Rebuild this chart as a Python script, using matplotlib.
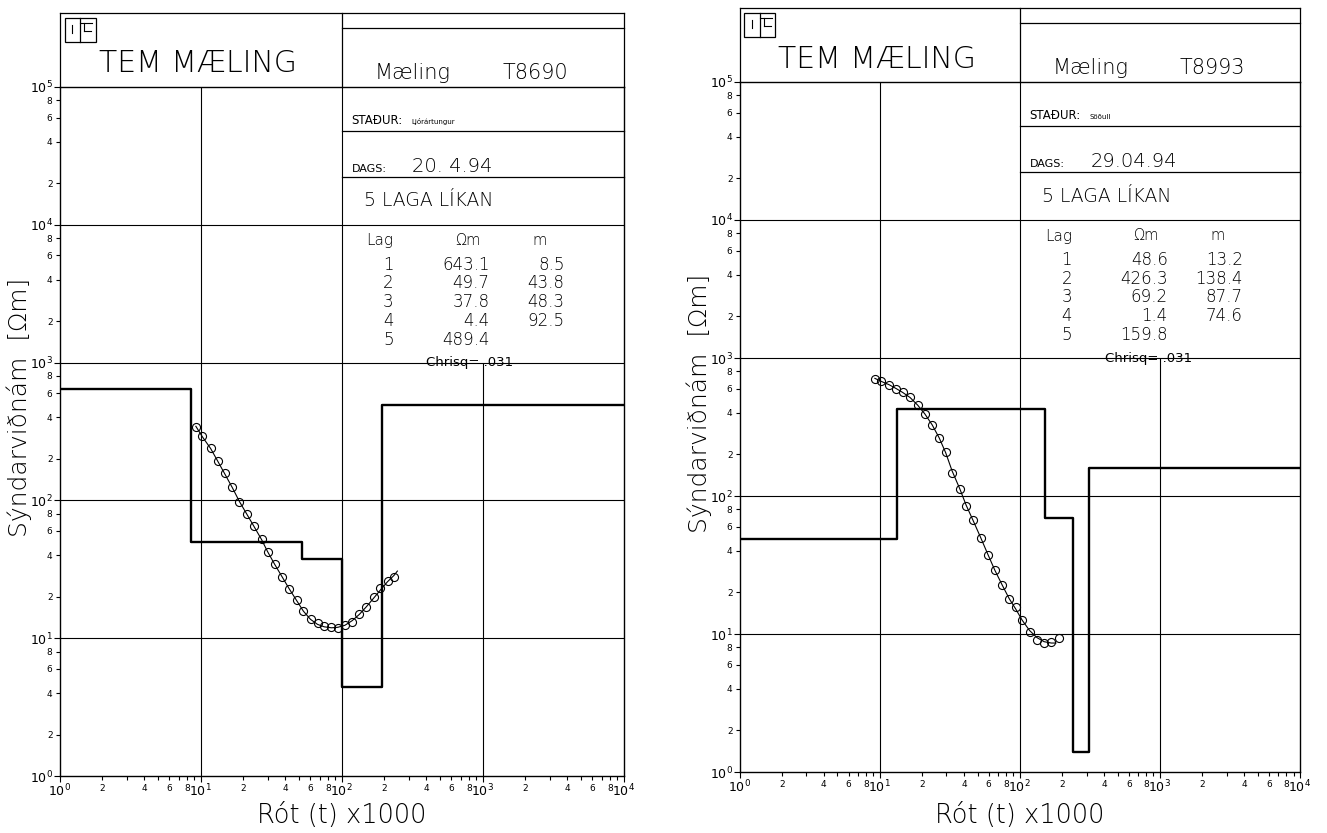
import numpy as np
import matplotlib
matplotlib.use("Agg")
import matplotlib.pyplot as plt
from matplotlib import font_manager
from matplotlib.lines import Line2D
from matplotlib.patches import Rectangle
from matplotlib.ticker import FixedLocator, FixedFormatter

# ---------------- sounding T8690 (Ljórártungur) ----------------
t8690_time = [9.27, 10.3, 11.8, 13.2, 14.8, 16.8, 18.9, 21.3, 24.0, 27.1, 29.9, 33.5, 37.9,
              42.6, 48.0, 53.7, 60.3, 67.6, 75.3, 84.9, 94.2, 105.6, 119, 134, 150, 171,
              189, 212, 236]
t8690_rho = [339, 292, 240, 192, 158, 125, 97.3, 80.1, 64.9, 52.3, 42.3, 34.7, 27.8, 22.7,
             18.8, 15.8, 13.8, 12.8, 12.2, 12.0, 11.8, 12.5, 13.2, 14.9, 16.9, 20.0, 23.0,
             25.9, 27.6]
t8690_fit_time = [9.27, 10.3, 11.8, 13.2, 14.8, 16.8, 18.9, 21.3, 24.0, 27.1, 29.9, 33.5,
                  37.9, 42.6, 48.0, 53.7, 60.3, 67.6, 75.3, 84.9, 94.2, 105.6, 119, 134,
                  150, 171, 189, 212, 236, 249]
t8690_fit_rho = [345, 290, 238, 194, 157, 124, 98, 79.5, 64.5, 52, 42.5, 34.5, 27.9, 22.8,
                 18.8, 15.7, 13.7, 12.6, 12.1, 11.9, 12.0, 12.4, 13.4, 14.9, 16.9, 19.8,
                 22.4, 25.7, 28.6, 30.7]
t8690_layer_res = [643.1, 49.7, 37.8, 4.4, 489.4]
t8690_layer_thk = [8.5, 43.8, 48.3, 92.5]

# ---------------- sounding T8993 (Söðull) ----------------
t8993_time = [9.25, 10.3, 11.7, 13.1, 14.6, 16.5, 18.7, 21.0, 23.7, 26.6, 29.6, 32.9, 37.3,
              41.5, 46.6, 52.6, 59.4, 66.4, 75.0, 84.2, 93.5, 104, 117.5, 133, 149, 168, 191]
t8993_rho = [709, 676, 640, 599, 566, 519, 454, 396, 328, 263, 207, 148, 112, 84.7, 66.5,
             49.6, 37.2, 28.9, 22.6, 17.9, 15.6, 12.6, 10.4, 9.1, 8.6, 8.8, 9.35]
t8993_fit_time = [9.25, 10.3, 11.7, 13.1, 14.6, 16.5, 18.7, 21.0, 23.7, 26.6, 29.6, 32.9,
                  37.3, 41.5, 46.6, 52.6, 59.4, 66.4, 75.0, 84.2, 93.5, 104, 117.5, 133,
                  149, 168, 181]
t8993_fit_rho = [712, 676, 640, 601, 563, 517, 455, 394, 328, 264, 206, 152, 113, 85.5, 66,
                 50, 37.5, 29, 22.6, 18, 15.2, 12.6, 10.6, 9.4, 8.8, 8.6, 8.6]
t8993_layer_res = [48.6, 426.3, 69.2, 1.4, 159.8]
t8993_layer_thk = [13.2, 138.4, 87.7, 74.6]

soundings = [
    dict(name="T8690", place="Ljórártungur", date="20. 4.94", chisq=".031",
         time=t8690_time, rho=t8690_rho, fit_time=t8690_fit_time, fit_rho=t8690_fit_rho,
         res=t8690_layer_res, thk=t8690_layer_thk),
    dict(name="T8993", place="Söðull", date="29.04.94", chisq=".031",
         time=t8993_time, rho=t8993_rho, fit_time=t8993_fit_time, fit_rho=t8993_fit_rho,
         res=t8993_layer_res, thk=t8993_layer_thk),
]


def light_family():
    prefs = [("DejaVu Sans", 200), ("Roboto", 300), ("Lato", 300), ("Open Sans", 300),
             ("Inter", 300)]
    have = {}
    for f in font_manager.fontManager.ttflist:
        w = f.weight
        if not isinstance(w, (int, float)):
            w = font_manager.weight_dict.get(str(w).lower(), 400)
        have.setdefault(f.name, set()).add(int(w))
    for name, _ in prefs:
        light = [w for w in have.get(name, ()) if w <= 300]
        if light:
            return name, max(light)
    return "DejaVu Sans", 400


FAM, WGT = light_family()
plt.rcParams["font.family"] = [FAM, "DejaVu Sans"]
plt.rcParams["font.weight"] = WGT
plt.rcParams["mathtext.default"] = "regular"

W, H, DPI = 1327, 833, 100
fig = plt.figure(figsize=(W / DPI, H / DPI), dpi=DPI)
fig.patch.set_facecolor("white")
K = "#000000"


def F(px, py):
    return px / W, 1 - py / H


def fline(xs, ys, lw=0.9):
    fx = [x / W for x in xs]
    fy = [1 - y / H for y in ys]
    fig.add_artist(Line2D(fx, fy, color=K, lw=lw, transform=fig.transFigure))


def ftext(px, py, s, **kw):
    kw.setdefault("color", K)
    fig.text(*F(px, py), s, **kw)


def draw_panel(s, x0, x1, y5, y0):
    ax = fig.add_axes([x0 / W, 1 - y0 / H, (x1 - x0) / W, (y0 - y5) / H])
    ax.set_xscale("log")
    ax.set_yscale("log")
    ax.set_xlim(1, 1e4)
    ax.set_ylim(1, 1e5)
    ax.set_facecolor("white")
    for sp in ax.spines.values():
        sp.set_linewidth(1.0)
        sp.set_color(K)

    def pxx(x):
        return x0 + np.log10(x) / 4 * (x1 - x0)

    def pyy(y):
        return y0 - np.log10(y) / 5 * (y0 - y5)

    # decade grid
    for k in range(1, 5):
        ax.axhline(10 ** k, color=K, lw=0.8, zorder=1)
    ax.axvline(10, color=K, lw=0.8, zorder=1)
    ax.axvline(100, color=K, lw=0.8, zorder=1)
    ax.vlines(1000, 1, 1000, color=K, lw=0.8, zorder=1)

    # ticks
    majors = [10 ** k for k in range(0, 6)]
    ax.yaxis.set_major_locator(FixedLocator(majors))
    ax.yaxis.set_major_formatter(FixedFormatter([f"$10^{{{k}}}$" for k in range(0, 6)]))
    yminor = [m * 10 ** k for k in range(0, 5) for m in (2, 4, 6, 8)]
    ax.yaxis.set_minor_locator(FixedLocator(yminor))
    ax.yaxis.set_minor_formatter(FixedFormatter([str(m) for k in range(0, 5) for m in (2, 4, 6, 8)]))

    ax.xaxis.set_major_locator(FixedLocator(majors[:5]))
    ax.xaxis.set_major_formatter(FixedFormatter([f"$10^{{{k}}}$" for k in range(0, 5)]))
    xminor = [m * 10 ** k for k in range(0, 4) for m in range(2, 10)]
    ax.xaxis.set_minor_locator(FixedLocator(xminor))
    ax.xaxis.set_minor_formatter(FixedFormatter(
        [str(m) if m % 2 == 0 else "" for k in range(0, 4) for m in range(2, 10)]))

    ax.tick_params(which="both", direction="out", color=K, width=0.8, labelcolor=K)
    ax.tick_params(axis="y", which="major", length=4, pad=1, labelsize=9)
    ax.tick_params(axis="y", which="minor", length=3, pad=2, labelsize=6.5)
    ax.tick_params(axis="x", which="major", length=4, pad=1, labelsize=9)
    ax.tick_params(axis="x", which="minor", length=3, pad=3, labelsize=6.5)
    for lab in (ax.get_xticklabels(which="both") + ax.get_yticklabels(which="both")):
        lab.set_fontweight("normal")

    # layered model
    bounds = np.cumsum(s["thk"])
    mx = np.concatenate([[1.0], bounds, [1e4]])
    my = list(s["res"]) + [s["res"][-1]]
    ax.step(mx, my, where="post", color=K, lw=1.7, zorder=3)

    # calculated response and measured values
    ax.plot(s["fit_time"], s["fit_rho"], color=K, lw=0.8, zorder=4)
    ax.plot(s["time"], s["rho"], "o", ms=5.8, mfc="none", mec=K, mew=0.8, zorder=5)

    # ---- title block and model table ----
    top = y5 - 74
    sub = y5 - 59
    r2 = y5 + 44
    r3 = y5 + 90
    y4 = pyy(1e4)
    y3 = pyy(1e3)
    tx = pxx(100)

    fline([x0, x1], [top, top])
    fline([x0, x0], [top, y5])
    fline([x1, x1], [top, y5])
    fline([tx, tx], [top, y5])
    fline([tx, x1], [sub, sub])
    fline([tx, x1], [r2, r2])
    fline([tx, x1], [r3, r3])

    # logo
    lx, ly = x0 + 5, y5 - 69
    fig.add_artist(Rectangle(F(lx, ly + 24), 31 / W, 24 / H, fill=False, ec=K, lw=0.9,
                             transform=fig.transFigure))
    fline([lx + 15, lx + 15], [ly, ly + 24], lw=0.9)
    fline([lx + 7, lx + 7], [ly + 7, ly + 15], lw=0.8)
    fline([lx + 15, lx + 27], [ly + 5, ly + 5], lw=0.8)
    fline([lx + 19, lx + 19], [ly + 5, ly + 13], lw=0.8)
    fline([lx + 19, lx + 26], [ly + 13, ly + 13], lw=0.8)

    ftext((x0 + tx) / 2 - 3, y5 - 23, "TEM MÆLING", fontsize=21.5, ha="center", va="center")
    ftext(tx + 33, y5 - 8, "Mæling", fontsize=15, ha="left", va="baseline")
    ftext(x1 - 55, y5 - 8, s["name"], fontsize=15, ha="right", va="baseline")
    ftext(tx + 10, r2 - 7, "STAÐUR:", fontsize=8.5, ha="left", va="baseline",
          fontweight="normal")
    ftext(tx + 70, r2 - 7, s["place"], fontsize=5, ha="left", va="baseline",
          fontweight="normal")
    ftext(tx + 10, r3 - 5, "DAGS:", fontsize=8, ha="left", va="baseline", fontweight="normal")
    ftext(tx + 71, r3 - 5, s["date"], fontsize=14, ha="left", va="baseline")
    ftext(tx + 22, (r3 + y4) / 2, f"{len(s['res'])} LAGA LÍKAN", fontsize=13.5, ha="left",
          va="center")

    ftext(tx + 25, y4 + 16, "Lag", fontsize=11, ha="left", va="center")
    ftext(tx + 126, y4 + 16, "Ωm", fontsize=10.5, ha="center", va="center")
    ftext(tx + 198, y4 + 16, "m", fontsize=10.5, ha="center", va="center")
    for i, r in enumerate(s["res"]):
        yy = y4 + 40 + 18.7 * i
        ftext(tx + 47, yy, str(i + 1), fontsize=12, ha="center", va="center")
        ftext(tx + 148, yy, f"{r:.1f}", fontsize=12, ha="right", va="center")
        if i < len(s["thk"]):
            ftext(tx + 223, yy, f"{s['thk'][i]:.1f}", fontsize=12, ha="right", va="center")
    ftext(tx + 85, y3, "Chrisq= " + s["chisq"], fontsize=9.5, ha="left", va="center",
          fontweight="normal")

    # axis titles
    ftext((x0 + x1) / 2, 815, "Rót (t) x1000", fontsize=18.5, ha="center", va="center")
    ftext(x0 - 40, (y5 + y0) / 2 - 24, "Sýndarviðnám  [Ωm]", fontsize=18, rotation=90,
          ha="center", va="center")
    return ax


draw_panel(soundings[0], 59.5, 623.5, 87, 776)
draw_panel(soundings[1], 739.5, 1300, 82, 772)

fig.savefig("out.png", dpi=DPI, facecolor="white")
